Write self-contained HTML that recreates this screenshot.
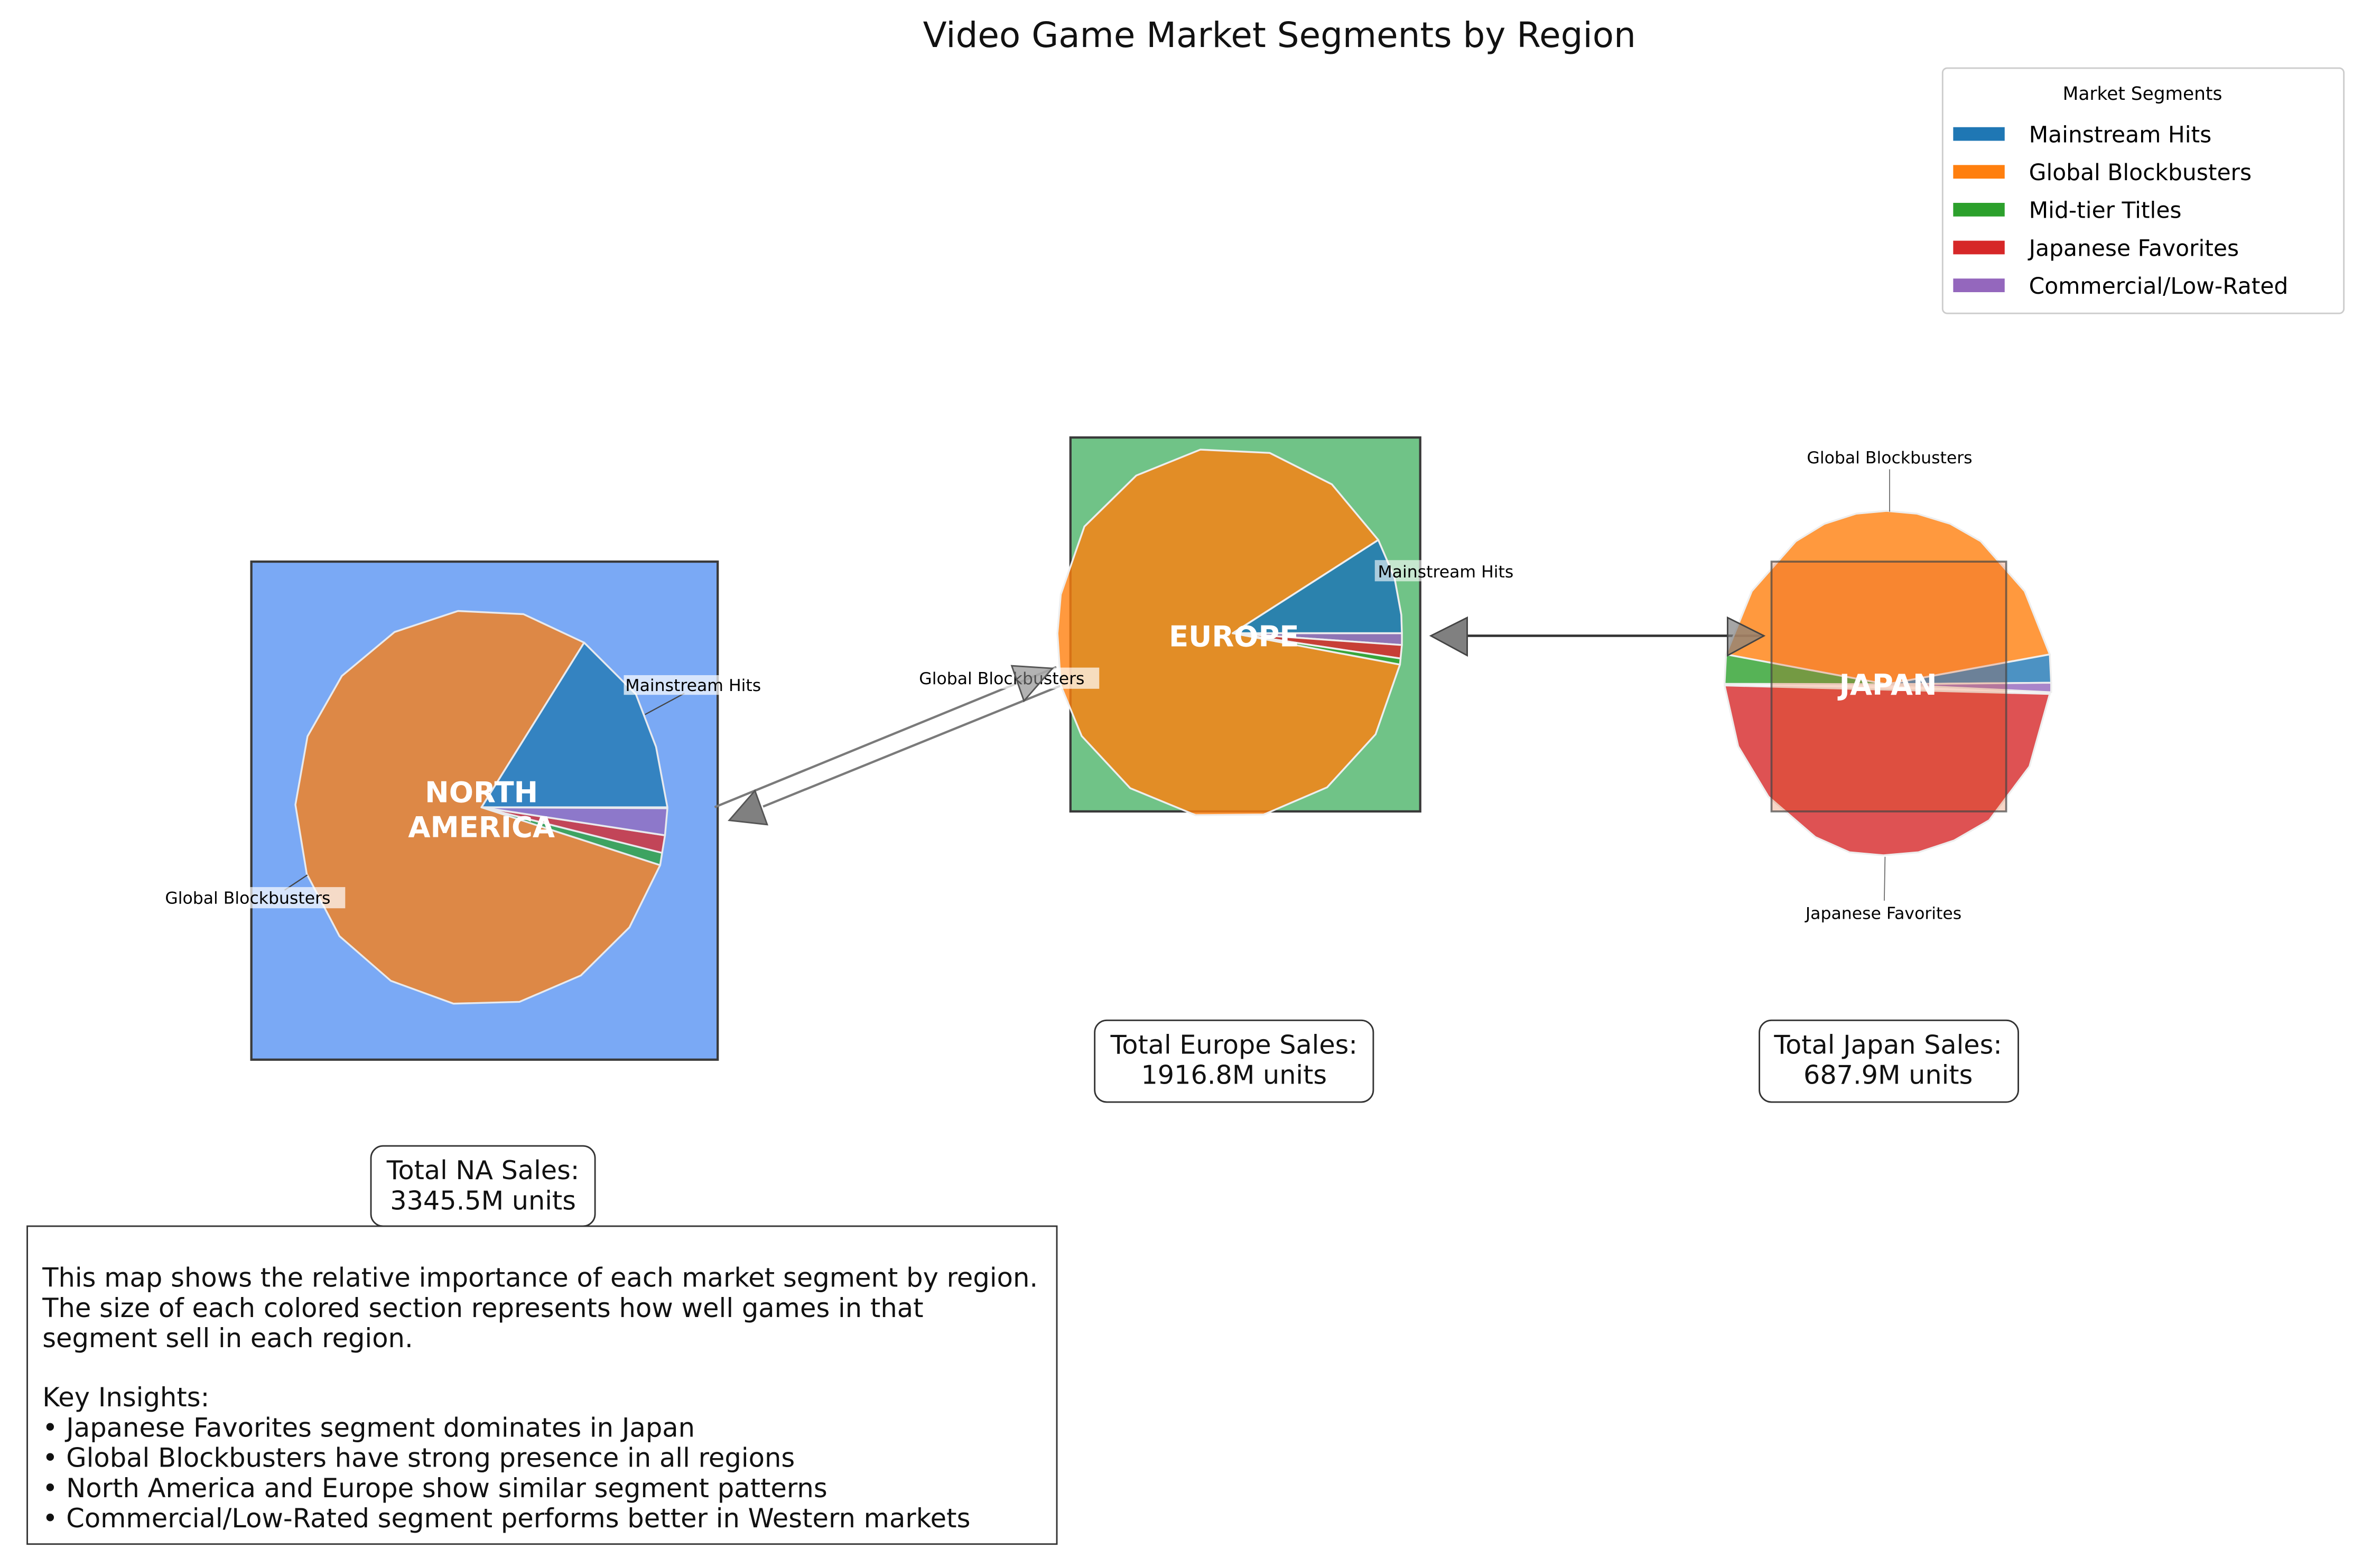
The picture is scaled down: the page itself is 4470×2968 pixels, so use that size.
<!DOCTYPE html>
<html><head><meta charset="utf-8"><style>
html,body{margin:0;padding:0;background:#fff}
svg{display:block}
text{font-family:"DejaVu Sans","Liberation Sans",sans-serif}
</style></head><body>
<svg width="4470" height="2968" viewBox="0 0 1560 1035.8" xmlns="http://www.w3.org/2000/svg">
<rect width="1560" height="1036" fill="#fff"/>
<text x="845" y="31" font-size="23" text-anchor="middle" fill="#111">Video Game Market Segments by Region</text>

<!-- Legend -->
<rect x="1283" y="45" width="265" height="162" rx="3" fill="#fff" stroke="#ccc" stroke-width="1"/>
<text x="1415" y="66" font-size="12" text-anchor="middle">Market Segments</text>
<rect x="1290" y="84" width="34" height="9" fill="#1f77b4"/><text x="1340" y="94" font-size="14.8">Mainstream Hits</text>
<rect x="1290" y="109" width="34" height="9" fill="#ff7f0e"/><text x="1340" y="119" font-size="14.8">Global Blockbusters</text>
<rect x="1290" y="134" width="34" height="9" fill="#2ca02c"/><text x="1340" y="144" font-size="14.8">Mid-tier Titles</text>
<rect x="1290" y="159" width="34" height="9" fill="#d62728"/><text x="1340" y="169" font-size="14.8">Japanese Favorites</text>
<rect x="1290" y="184" width="34" height="9" fill="#9467bd"/><text x="1340" y="194" font-size="14.8">Commercial/Low-Rated</text>

<!-- North America -->
<rect x="166" y="371" width="308" height="329" fill="#7aa9f5" stroke="#3a3a3a" stroke-width="1.5"/>
<g stroke="#eee" stroke-width="1.2" stroke-linejoin="round" opacity="0.95">
<polygon fill="#e3873d" points="318,533.3 385.8,424.5 345.7,405.7 302.5,403.6 260.6,417.5 225.8,446.5 203.1,486.4 195.1,531.6 202.6,577.3 224.2,618.4 258.1,647.9 299.5,663 343.1,661.8 383.6,644.4 415.7,612.6 436,571.5"/>
<polygon fill="#3182bf" points="318,533.3 440.8,533.3 433.3,493.4 420,458.6 385.8,424.5"/>
<polygon fill="#3aa35a" points="318,533.3 436,571.5 437.3,563.4"/>
<polygon fill="#c64050" points="318,533.3 437.3,563.4 439.2,551.8"/>
<polygon fill="#8f76c8" points="318,533.3 439.2,551.8 440.8,533.9"/>
</g>
<text x="318" y="530" font-size="19" font-weight="bold" fill="#fff" text-anchor="middle">NORTH</text>
<text x="318" y="553" font-size="19" font-weight="bold" fill="#fff" text-anchor="middle">AMERICA</text>
<line x1="452" y1="458" x2="426" y2="472" stroke="#444" stroke-width="0.8"/>
<rect x="412" y="446" width="97" height="13" fill="#fff" opacity="0.7"/>
<text x="413" y="456.5" font-size="11">Mainstream Hits</text>
<line x1="188" y1="588" x2="203" y2="578" stroke="#444" stroke-width="0.8"/>
<rect x="108" y="586" width="120" height="14" fill="#fff" opacity="0.7"/>
<text x="109" y="597" font-size="11">Global Blockbusters</text>

<!-- NA-Europe arrows -->
<g stroke="#7a7a7a" stroke-width="1.5" fill="none">
<line x1="472" y1="533.2" x2="697.7" y2="440.7"/>
<line x1="504" y1="532.8" x2="702.9" y2="452"/>
</g>
<polygon points="481.6,541.9 498.6,522.3 506.7,544.7" fill="#808080" stroke="#555" stroke-width="1"/>

<!-- Europe -->
<rect x="707" y="289" width="231" height="247" fill="#70c387" stroke="#3a3a3a" stroke-width="1.5"/>
<g stroke="#eee" stroke-width="1.2" stroke-linejoin="round">
<polygon fill="#ff7f0e" fill-opacity="0.8" points="814.2,418.3 910.3,356.7 879.6,319.9 838.6,299.2 792.8,297 750.5,314.1 716.2,347.8 700.6,392.7 698.4,418.4 700.6,452.8 714.4,486.2 746.5,520.7 789.7,538.5 834.6,538.1 876.5,520.1 908.5,485.1 924.6,439"/>
<polygon fill="#1f77b4" fill-opacity="0.85" points="814.2,418.3 925.9,418.3 925.5,406.1 921,381.6 910.3,356.7"/>
<polygon fill="#9467bd" fill-opacity="0.85" points="814.2,418.3 925.9,418.3 925.9,426.1"/>
<polygon fill="#d62728" fill-opacity="0.85" points="814.2,418.3 925.9,426.1 925,435"/>
<polygon fill="#2ca02c" fill-opacity="0.85" points="814.2,418.3 925,435 924.6,439"/>
</g>
<text x="815" y="427" font-size="19" font-weight="bold" fill="#fff" text-anchor="middle">EUROPE</text>
<rect x="908" y="370" width="98" height="14" fill="#fff" opacity="0.6"/>
<text x="910" y="381.5" font-size="11">Mainstream Hits</text>
<rect x="605" y="441" width="121" height="14" fill="#fff" opacity="0.7"/>
<text x="607" y="452" font-size="11">Global Blockbusters</text>
<polygon points="668.2,439.8 695.1,441.5 676.3,463" fill="#808080" fill-opacity="0.6" stroke="#555" stroke-width="1"/>

<!-- Europe-Japan arrow -->
<line x1="964" y1="420" x2="1165" y2="420" stroke="#333" stroke-width="1.6"/>
<polygon points="945,420 969,408 969,433" fill="#808080" stroke="#444" stroke-width="1"/>

<!-- Japan -->
<g stroke="#eee" stroke-width="1.2" stroke-linejoin="round">
<polygon fill="#ff7f0e" fill-opacity="0.8" points="1246,452 1353.8,432.3 1337.2,390.5 1308.3,357.6 1288,346 1266,339.3 1246,337.5 1226,339.3 1205,346 1186,357.6 1157,390.5 1140,432.3"/>
<polygon fill="#2ca02c" fill-opacity="0.8" points="1246,452 1140,432.3 1139,451.7"/>
<polygon fill="#1f77b4" fill-opacity="0.8" points="1246,452 1353.8,432.3 1354.7,451"/>
<polygon fill="#9467bd" fill-opacity="0.8" points="1246,452 1354.7,451 1354.7,457.3"/>
<polygon fill="#d62728" fill-opacity="0.8" points="1139,452.8 1148,493 1168,526.3 1199,553 1221.5,563 1244,565 1267,563 1290.6,555.2 1313.7,541.9 1340.4,506.3 1353.8,458.4"/>
</g>
<rect x="1170" y="371" width="155" height="165" fill="rgb(225,70,0)" fill-opacity="0.22" stroke="#444" stroke-opacity="0.7" stroke-width="1.3"/>
<polygon points="1165,420 1141,408 1141,433" fill="#808080" fill-opacity="0.7" stroke="#444" stroke-width="1"/>
<text x="1247" y="459" font-size="19" font-weight="bold" fill="#fff" text-anchor="middle">JAPAN</text>
<line x1="1248" y1="310" x2="1248" y2="338" stroke="#666" stroke-width="0.6"/>
<text x="1248" y="306" font-size="11" text-anchor="middle">Global Blockbusters</text>
<line x1="1245" y1="566" x2="1244.5" y2="595" stroke="#666" stroke-width="0.6"/>
<text x="1244" y="607" font-size="11" text-anchor="middle">Japanese Favorites</text>

<!-- Totals -->
<g fill="#fff" stroke="#333" stroke-width="1">
<rect x="723" y="674" width="184" height="54" rx="8"/>
<rect x="1162" y="674" width="171" height="54" rx="8"/>
<rect x="245" y="757" width="148" height="53" rx="8"/>
</g>
<g font-size="17.2" text-anchor="middle" fill="#111">
<text x="815" y="696">Total Europe Sales:</text><text x="815" y="716">1916.8M units</text>
<text x="1247" y="696">Total Japan Sales:</text><text x="1247" y="716">687.9M units</text>
<text x="319" y="779">Total NA Sales:</text><text x="319" y="799">3345.5M units</text>
</g>

<!-- Description -->
<rect x="18" y="810" width="680" height="210" fill="#fff" stroke="#333" stroke-width="1"/>
<g font-size="17.3" fill="#111">
<text x="28" y="850">This map shows the relative importance of each market segment by region.</text>
<text x="28" y="870">The size of each colored section represents how well games in that</text>
<text x="28" y="890">segment sell in each region.</text>
<text x="28" y="929">Key Insights:</text>
<text x="28" y="949">• Japanese Favorites segment dominates in Japan</text>
<text x="28" y="969">• Global Blockbusters have strong presence in all regions</text>
<text x="28" y="989">• North America and Europe show similar segment patterns</text>
<text x="28" y="1009">• Commercial/Low-Rated segment performs better in Western markets</text>
</g>
</svg>
</body></html>
